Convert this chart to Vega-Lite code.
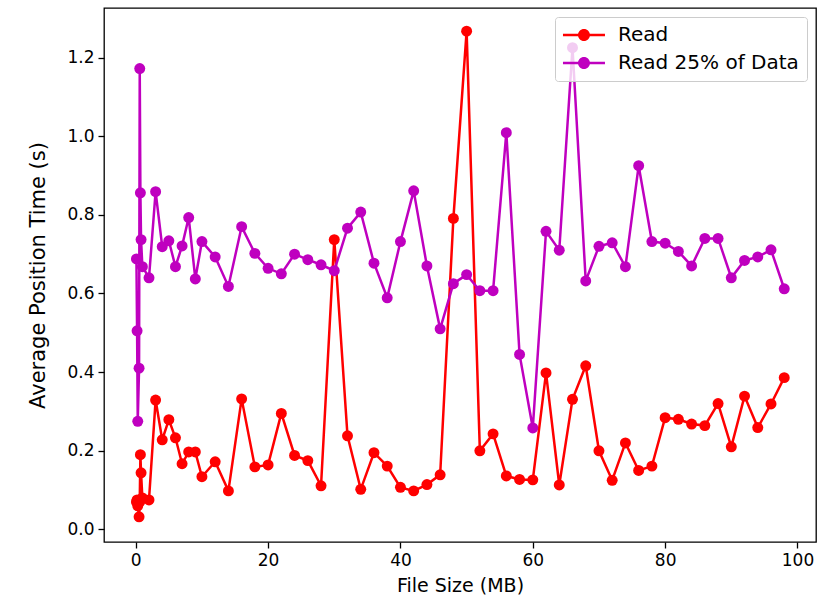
{
  "$schema": "https://vega.github.io/schema/vega-lite/v6.json",
  "width": 712,
  "height": 534,
  "autosize": {"type": "none"},
  "padding": {"left": 104, "top": 8, "right": 3, "bottom": 62},
  "background": "white",
  "config": {
    "font": "DejaVu Sans",
    "view": {"stroke": "#000000", "strokeWidth": 1.3},
    "axis": {
      "grid": false,
      "domain": false,
      "tickColor": "#000000",
      "tickSize": 6,
      "tickWidth": 1.3,
      "labelColor": "#000000",
      "labelFontSize": 17,
      "labelPadding": 4,
      "titleColor": "#000000",
      "titleFontWeight": "normal"
    }
  },
  "datasets": {
    "pts": [
      {"s": "Read", "x": 0.1, "y": 0.07},
      {"s": "Read", "x": 0.2, "y": 0.075},
      {"s": "Read", "x": 0.3, "y": 0.06},
      {"s": "Read", "x": 0.5, "y": 0.032},
      {"s": "Read", "x": 0.6, "y": 0.07},
      {"s": "Read", "x": 0.7, "y": 0.19},
      {"s": "Read", "x": 0.8, "y": 0.144},
      {"s": "Read", "x": 1, "y": 0.08},
      {"s": "Read", "x": 2, "y": 0.075},
      {"s": "Read", "x": 3, "y": 0.329},
      {"s": "Read", "x": 4, "y": 0.228},
      {"s": "Read", "x": 5, "y": 0.279},
      {"s": "Read", "x": 6, "y": 0.233},
      {"s": "Read", "x": 7, "y": 0.167},
      {"s": "Read", "x": 8, "y": 0.197},
      {"s": "Read", "x": 9, "y": 0.197},
      {"s": "Read", "x": 10, "y": 0.134},
      {"s": "Read", "x": 12, "y": 0.172},
      {"s": "Read", "x": 14, "y": 0.098},
      {"s": "Read", "x": 16, "y": 0.332},
      {"s": "Read", "x": 18, "y": 0.159},
      {"s": "Read", "x": 20, "y": 0.164},
      {"s": "Read", "x": 22, "y": 0.295},
      {"s": "Read", "x": 24, "y": 0.188},
      {"s": "Read", "x": 26, "y": 0.175},
      {"s": "Read", "x": 28, "y": 0.111},
      {"s": "Read", "x": 30, "y": 0.737},
      {"s": "Read", "x": 32, "y": 0.238},
      {"s": "Read", "x": 34, "y": 0.102},
      {"s": "Read", "x": 36, "y": 0.195},
      {"s": "Read", "x": 38, "y": 0.161},
      {"s": "Read", "x": 40, "y": 0.107},
      {"s": "Read", "x": 42, "y": 0.098},
      {"s": "Read", "x": 44, "y": 0.114},
      {"s": "Read", "x": 46, "y": 0.139},
      {"s": "Read", "x": 48, "y": 0.791},
      {"s": "Read", "x": 50, "y": 1.267},
      {"s": "Read", "x": 52, "y": 0.2},
      {"s": "Read", "x": 54, "y": 0.243},
      {"s": "Read", "x": 56, "y": 0.136},
      {"s": "Read", "x": 58, "y": 0.127},
      {"s": "Read", "x": 60, "y": 0.126},
      {"s": "Read", "x": 62, "y": 0.398},
      {"s": "Read", "x": 64, "y": 0.113},
      {"s": "Read", "x": 66, "y": 0.331},
      {"s": "Read", "x": 68, "y": 0.416},
      {"s": "Read", "x": 70, "y": 0.2},
      {"s": "Read", "x": 72, "y": 0.125},
      {"s": "Read", "x": 74, "y": 0.22},
      {"s": "Read", "x": 76, "y": 0.15},
      {"s": "Read", "x": 78, "y": 0.161},
      {"s": "Read", "x": 80, "y": 0.284},
      {"s": "Read", "x": 82, "y": 0.28},
      {"s": "Read", "x": 84, "y": 0.268},
      {"s": "Read", "x": 86, "y": 0.264},
      {"s": "Read", "x": 88, "y": 0.32},
      {"s": "Read", "x": 90, "y": 0.21},
      {"s": "Read", "x": 92, "y": 0.339},
      {"s": "Read", "x": 94, "y": 0.259},
      {"s": "Read", "x": 96, "y": 0.319},
      {"s": "Read", "x": 98, "y": 0.386},
      {"s": "Read 25% of Data", "x": 0.1, "y": 0.688},
      {"s": "Read 25% of Data", "x": 0.2, "y": 0.505},
      {"s": "Read 25% of Data", "x": 0.3, "y": 0.275},
      {"s": "Read 25% of Data", "x": 0.5, "y": 0.41},
      {"s": "Read 25% of Data", "x": 0.6, "y": 1.172},
      {"s": "Read 25% of Data", "x": 0.7, "y": 0.856},
      {"s": "Read 25% of Data", "x": 0.8, "y": 0.737},
      {"s": "Read 25% of Data", "x": 1, "y": 0.668},
      {"s": "Read 25% of Data", "x": 2, "y": 0.64},
      {"s": "Read 25% of Data", "x": 3, "y": 0.859},
      {"s": "Read 25% of Data", "x": 4, "y": 0.719},
      {"s": "Read 25% of Data", "x": 5, "y": 0.734},
      {"s": "Read 25% of Data", "x": 6, "y": 0.668},
      {"s": "Read 25% of Data", "x": 7, "y": 0.721},
      {"s": "Read 25% of Data", "x": 8, "y": 0.793},
      {"s": "Read 25% of Data", "x": 9, "y": 0.637},
      {"s": "Read 25% of Data", "x": 10, "y": 0.732},
      {"s": "Read 25% of Data", "x": 12, "y": 0.693},
      {"s": "Read 25% of Data", "x": 14, "y": 0.618},
      {"s": "Read 25% of Data", "x": 16, "y": 0.77},
      {"s": "Read 25% of Data", "x": 18, "y": 0.702},
      {"s": "Read 25% of Data", "x": 20, "y": 0.664},
      {"s": "Read 25% of Data", "x": 22, "y": 0.65},
      {"s": "Read 25% of Data", "x": 24, "y": 0.7},
      {"s": "Read 25% of Data", "x": 26, "y": 0.686},
      {"s": "Read 25% of Data", "x": 28, "y": 0.673},
      {"s": "Read 25% of Data", "x": 30, "y": 0.658},
      {"s": "Read 25% of Data", "x": 32, "y": 0.766},
      {"s": "Read 25% of Data", "x": 34, "y": 0.807},
      {"s": "Read 25% of Data", "x": 36, "y": 0.677},
      {"s": "Read 25% of Data", "x": 38, "y": 0.589},
      {"s": "Read 25% of Data", "x": 40, "y": 0.732},
      {"s": "Read 25% of Data", "x": 42, "y": 0.861},
      {"s": "Read 25% of Data", "x": 44, "y": 0.67},
      {"s": "Read 25% of Data", "x": 46, "y": 0.51},
      {"s": "Read 25% of Data", "x": 48, "y": 0.625},
      {"s": "Read 25% of Data", "x": 50, "y": 0.648},
      {"s": "Read 25% of Data", "x": 52, "y": 0.607},
      {"s": "Read 25% of Data", "x": 54, "y": 0.607},
      {"s": "Read 25% of Data", "x": 56, "y": 1.009},
      {"s": "Read 25% of Data", "x": 58, "y": 0.445},
      {"s": "Read 25% of Data", "x": 60, "y": 0.258},
      {"s": "Read 25% of Data", "x": 62, "y": 0.758},
      {"s": "Read 25% of Data", "x": 64, "y": 0.71},
      {"s": "Read 25% of Data", "x": 66, "y": 1.225},
      {"s": "Read 25% of Data", "x": 68, "y": 0.632},
      {"s": "Read 25% of Data", "x": 70, "y": 0.72},
      {"s": "Read 25% of Data", "x": 72, "y": 0.729},
      {"s": "Read 25% of Data", "x": 74, "y": 0.668},
      {"s": "Read 25% of Data", "x": 76, "y": 0.925},
      {"s": "Read 25% of Data", "x": 78, "y": 0.732},
      {"s": "Read 25% of Data", "x": 80, "y": 0.728},
      {"s": "Read 25% of Data", "x": 82, "y": 0.707},
      {"s": "Read 25% of Data", "x": 84, "y": 0.67},
      {"s": "Read 25% of Data", "x": 86, "y": 0.74},
      {"s": "Read 25% of Data", "x": 88, "y": 0.74},
      {"s": "Read 25% of Data", "x": 90, "y": 0.64},
      {"s": "Read 25% of Data", "x": 92, "y": 0.684},
      {"s": "Read 25% of Data", "x": 94, "y": 0.693},
      {"s": "Read 25% of Data", "x": 96, "y": 0.711},
      {"s": "Read 25% of Data", "x": 98, "y": 0.612}
    ]
  },
  "data": {"name": "pts"},
  "encoding": {
    "x": {
      "field": "x",
      "type": "quantitative",
      "scale": {"domain": [-4.8, 102.8], "nice": false, "zero": false},
      "axis": {"values": [0, 20, 40, 60, 80, 100], "format": "d", "title": "File Size (MB)", "titleFontSize": 19, "titlePadding": 8}
    },
    "y": {
      "field": "y",
      "type": "quantitative",
      "scale": {"domain": [-0.032, 1.326], "nice": false, "zero": false},
      "axis": {"values": [0, 0.2, 0.4, 0.6, 0.8, 1.0, 1.2], "format": ".1f", "title": "Average Position Time (s)", "titleFontSize": 21, "titlePadding": 18}
    },
    "color": {
      "field": "s",
      "type": "nominal",
      "scale": {"domain": ["Read", "Read 25% of Data"], "range": ["#ff0000", "#bf00bf"]},
      "legend": {
        "title": null,
        "orient": "top-right",
        "offset": 9,
        "zindex": 1,
        "symbolType": "M-1.67,-0.21H5.33V0.21H-1.67Z M2.83,0A1,1 0 1 1 0.83,0A1,1 0 1 1 2.83,0Z",
        "symbolSize": 144,
        "symbolStrokeWidth": 0,
        "labelFontSize": 20,
        "labelColor": "#000000",
        "labelLimit": 0,
        "labelOffset": 35,
        "fillColor": "rgba(255,255,255,0.8)",
        "strokeColor": "#cccccc",
        "cornerRadius": 3,
        "padding": 8,
        "rowPadding": 8
      }
    }
  },
  "layer": [
    {"transform": [{"filter": "datum.s === 'Read'"}], "mark": {"type": "line", "strokeWidth": 2.5}},
    {"transform": [{"filter": "datum.s === 'Read'"}], "mark": {"type": "point", "filled": true, "size": 120, "opacity": 1}},
    {"transform": [{"filter": "datum.s === 'Read 25% of Data'"}], "mark": {"type": "line", "strokeWidth": 2.5}},
    {"transform": [{"filter": "datum.s === 'Read 25% of Data'"}], "mark": {"type": "point", "filled": true, "size": 120, "opacity": 1}}
  ]
}
